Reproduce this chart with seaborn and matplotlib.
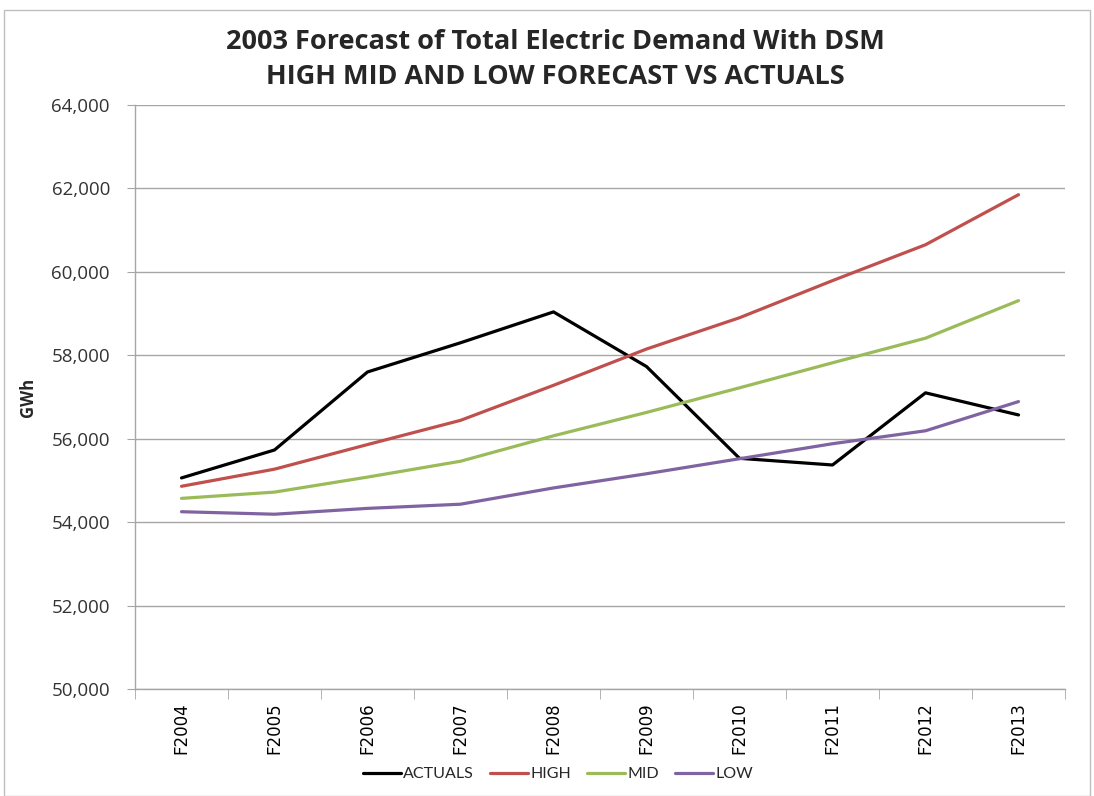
import matplotlib
matplotlib.use("Agg")
import matplotlib.pyplot as plt
import matplotlib.patches as mpatches
from matplotlib.ticker import FuncFormatter, FixedLocator
import seaborn as sns
import pandas as pd

years = ["F2004", "F2005", "F2006", "F2007", "F2008",
         "F2009", "F2010", "F2011", "F2012", "F2013"]
actuals = [55060, 55730, 57600, 58300, 59040, 57730, 55530, 55370, 57100, 56570]
high = [54860, 55270, 55860, 56440, 57280, 58150, 58900, 59790, 60650, 61850]
mid = [54570, 54720, 55080, 55460, 56070, 56630, 57220, 57820, 58410, 59310]
low = [54250, 54190, 54330, 54430, 54820, 55160, 55520, 55880, 56190, 56890]
series_names = ["ACTUALS", "HIGH", "MID", "LOW"]
series_colors = ["#000000", "#C0504D", "#9BBB59", "#8064A2"]

rows = []
for name, vals in zip(series_names, [actuals, high, mid, low]):
    for y, v in zip(years, vals):
        rows.append({"Year": y, "GWh": v, "Series": name})
df = pd.DataFrame(rows)

sns.set_style("white")
W, H = 1094, 796
fig = plt.figure(figsize=(W / 100, H / 100), dpi=100)
ax = fig.add_axes([135 / W, 1 - 689 / H, 930 / W, (689 - 105) / H])

sns.lineplot(data=df, x="Year", y="GWh", hue="Series", hue_order=series_names,
             palette=series_colors, linewidth=2.3, ax=ax, sort=False)

ax.set_xlim(-0.5, 9.5)
ax.set_ylim(50000, 64000)
ax.yaxis.set_major_locator(FixedLocator(range(50000, 64001, 2000)))
ax.yaxis.set_major_formatter(FuncFormatter(lambda v, p: f"{int(v):,}"))
ax.grid(axis="y", color="#A6A6A6", linewidth=1.0)
ax.set_axisbelow(True)
for side in ["top", "right"]:
    ax.spines[side].set_visible(False)
ax.spines["left"].set_color("#A6A6A6")
ax.spines["bottom"].set_color("#A6A6A6")
ax.spines["left"].set_linewidth(1.0)
ax.spines["bottom"].set_linewidth(1.0)

ax.tick_params(axis="y", which="major", left=True, length=6, color="#A6A6A6",
               labelsize=13.5, labelcolor="#333333", pad=12)
for t in ax.get_yticklabels():
    t.set_fontfamily("Open Sans")

# x: labels at categories, tick marks between categories
ax.set_xticks(range(len(years)))
ax.set_xticklabels(years, rotation=90, fontsize=12, family="DejaVu Sans", color="#000000")
ax.tick_params(axis="x", which="major", bottom=False, pad=6)
ax.set_xticks([i - 0.5 for i in range(len(years) + 1)], minor=True)
ax.tick_params(axis="x", which="minor", bottom=True, length=7, color="#A6A6A6")

ax.set_xlabel("")
ax.set_ylabel("GWh", fontsize=12, fontweight="bold", family="Open Sans", labelpad=10)

handles, labels = ax.get_legend_handles_labels()
if ax.get_legend() is not None:
    ax.get_legend().remove()
leg = fig.legend(handles, labels, loc="center", bbox_to_anchor=(558 / W, 1 - 774 / H),
                 ncol=4, frameon=False, handlelength=2.4, handletextpad=0.12,
                 columnspacing=1.0, prop={"family": "Lato", "size": 11.5})
for t in leg.get_texts():
    t.set_color("#262626")

fig.text(555 / W, 1 - 42 / H, "2003 Forecast of Total Electric Demand With DSM",
         ha="center", va="center", fontsize=19.5, fontweight="bold", family="Open Sans")
fig.text(555 / W, 1 - 77 / H, "HIGH MID AND LOW FORECAST VS ACTUALS",
         ha="center", va="center", fontsize=19.5, fontweight="bold", family="Open Sans")

border = mpatches.Rectangle((4 / W, 0), (1090 - 4) / W, 1 - 10 / H, transform=fig.transFigure,
                            fill=False, edgecolor="#BFBFBF", linewidth=1.0)
fig.patches.append(border)

fig.savefig("out.png", dpi=100)
